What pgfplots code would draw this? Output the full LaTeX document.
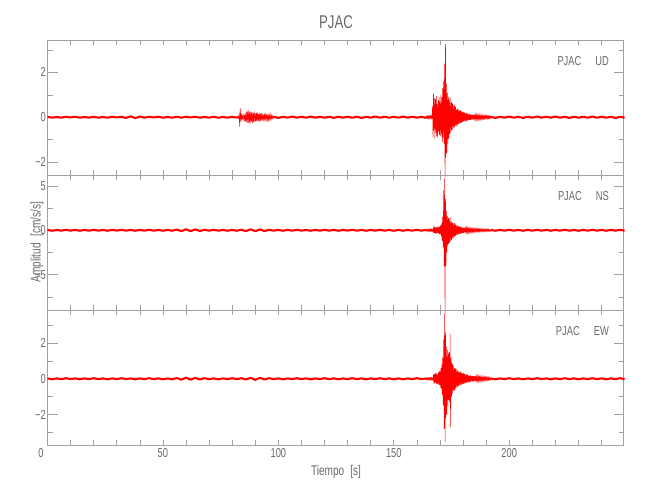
\documentclass[border=0pt]{standalone}
\usepackage{fontspec}
\setmainfont{Liberation Sans}[FakeStretch=0.72]
\usepackage{pgfplots}
\pgfplotsset{compat=1.18}
\definecolor{axgray}{RGB}{160,160,160}
\definecolor{txtgray}{RGB}{105,105,105}
\pgfplotsset{
  seis/.style={
    scale only axis, width=576bp, height=135bp,
    xmin=0, xmax=249.5, clip=false,
    axis line style={axgray, line width=0.6bp},
    tick style={axgray, line width=0.6bp},
    major tick length=10bp, minor tick length=5bp,
    xtick={0,50,100,150,200},
    major x tick style={draw=none},
    minor xtick={0,10,...,240},
    ticklabel style={font=\fontsize{13}{15}\selectfont, text=txtgray},
    yticklabel style={inner sep=1.5bp},
    xticklabel style={inner sep=3.5bp},
    /pgf/number format/assume math mode=true,
  },
  trace/.style={red, line width=0.5bp, mark=none},
  base/.style={red, line width=2.1bp, mark=none, line join=round},
}
\tikzset{comp/.style={anchor=east, xshift=-14.5bp, yshift=-21bp, font=\fontsize{13}{15}\selectfont, text=txtgray, inner sep=0pt}}
\begin{document}
\begin{tikzpicture}
\useasboundingbox (0,0) rectangle (650bp,500bp);
% ---------------- UD ----------------
\begin{axis}[seis, at={(47.5bp,325bp)}, anchor=south west,
  ymin=-2.58, ymax=3.45, ytick={-2,0,2}, yticklabels={−2,0,2},
  minor ytick={-2,-1,...,3}, xticklabels={}]
\addplot[base] table[header=false, row sep=\\, y index=0, x expr=\coordindex*2] {
0.02\\-0.02\\0.01\\-0.02\\0.02\\-0.01\\0.02\\-0.02\\0.01\\-0.02\\
0.02\\-0.02\\0.01\\-0.02\\0.02\\-0.01\\0.02\\-0.03\\0.04\\-0.04\\
0.03\\-0.02\\0.02\\-0.01\\0.02\\-0.02\\0.01\\-0.02\\0.02\\-0.02\\
0.02\\-0.01\\0.02\\-0.02\\0.01\\-0.02\\0.02\\-0.02\\0.01\\-0.02\\
0.02\\-0.02\\
};
\addplot[trace] table[header=false, row sep=\\, y index=0, x expr=82+\coordindex*0.25] {
0.03\\-0.04\\0.05\\-0.05\\0.1\\-0.42\\0.40\\-0.2\\0.12\\-0.08\\
0.07\\-0.09\\0.1\\-0.12\\0.15\\-0.2\\0.25\\-0.22\\0.28\\-0.25\\
0.3\\-0.27\\0.22\\-0.28\\0.26\\-0.2\\0.24\\-0.26\\0.2\\-0.22\\
0.25\\-0.2\\0.18\\-0.22\\0.2\\-0.17\\0.21\\-0.18\\0.15\\-0.19\\
0.2\\-0.16\\0.18\\-0.14\\0.17\\-0.15\\0.12\\-0.16\\0.14\\-0.12\\
0.13\\-0.1\\0.15\\-0.12\\0.1\\-0.13\\0.11\\-0.09\\0.12\\-0.1\\
0.08\\-0.07\\0.06\\-0.06\\0.05\\
};
\addplot[base] table[header=false, row sep=\\, y index=0, x expr=98+\coordindex*2] {
0.02\\-0.03\\0.02\\-0.02\\0.03\\-0.02\\0.02\\-0.02\\0.03\\-0.02\\
0.02\\-0.02\\0.02\\-0.03\\0.02\\-0.02\\0.02\\-0.02\\0.02\\-0.03\\
0.02\\-0.02\\0.03\\-0.02\\0.02\\-0.02\\0.02\\-0.02\\0.03\\-0.02\\
0.02\\-0.02\\0.02\\-0.03\\
};
\addplot[trace] table[header=false, row sep=\\, y index=0, x expr=164+\coordindex*0.2] {
0.05\\-0.04\\0.06\\-0.05\\0.04\\-0.06\\0.05\\-0.05\\0.06\\-0.04\\
0.06\\-0.05\\0.07\\-0.06\\0.5\\-0.9\\1.05\\-0.6\\0.85\\-0.95\\
0.8\\-0.7\\0.95\\-0.85\\0.6\\-0.9\\0.75\\-0.65\\0.9\\-0.8\\
0.7\\-0.85\\1.0\\-0.75\\0.9\\-1.1\\1.3\\-0.9\\1.6\\-1.2\\
2.4\\-2.65\\3.27\\-1.8\\1.5\\-1.6\\1.1\\-1.2\\0.9\\-0.95\\
0.8\\-0.75\\0.9\\-0.7\\0.65\\-0.6\\0.7\\-0.55\\0.6\\-0.5\\
0.5\\-0.45\\0.55\\-0.4\\0.45\\-0.4\\0.35\\-0.4\\0.38\\-0.32\\
0.35\\-0.3\\0.3\\-0.28\\0.32\\-0.25\\0.27\\-0.24\\0.25\\-0.22\\
0.24\\-0.2\\0.22\\-0.18\\0.2\\-0.19\\0.17\\-0.16\\0.18\\-0.15\\
0.16\\-0.14\\0.15\\-0.13\\0.14\\-0.12\\0.13\\-0.12\\0.12\\-0.11\\
0.12\\-0.1\\0.11\\-0.1\\0.12\\-0.09\\0.1\\-0.09\\0.1\\-0.08\\
0.09\\-0.1\\0.08\\-0.09\\0.08\\-0.07\\0.09\\-0.08\\0.07\\-0.08\\
0.07\\-0.06\\0.08\\-0.07\\0.06\\-0.07\\0.06\\-0.05\\0.07\\-0.06\\
0.06\\-0.05\\0.06\\-0.06\\0.05\\-0.06\\0.05\\-0.05\\0.06\\-0.05\\
0.05\\
};
\addplot[base] table[header=false, row sep=\\, y index=0, x expr=192+\coordindex*2] {
0.02\\-0.03\\0.02\\-0.02\\0.03\\-0.02\\0.02\\-0.03\\0.02\\-0.02\\
0.03\\-0.02\\0.02\\-0.02\\0.03\\-0.02\\0.02\\-0.03\\0.02\\-0.02\\
0.02\\-0.02\\0.03\\-0.02\\0.02\\-0.02\\0.02\\-0.03\\0.02\\-0.02\\
};
\node[comp] at (rel axis cs:1,1) {PJAC\hspace{14bp}UD};
\end{axis}
% ---------------- NS ----------------
\begin{axis}[seis, at={(47.5bp,190bp)}, anchor=south west,
  ymin=-8.98, ymax=6.23, ytick={-5,0,5}, yticklabels={−5,0,5},
  minor ytick={-7.5,-5,-2.5,0,2.5,5}, xticklabels={}]
\addplot[base] table[header=false, row sep=\\, y index=0, x expr=\coordindex*2] {
0.04\\-0.05\\0.03\\-0.04\\0.05\\-0.04\\0.04\\-0.05\\0.04\\-0.04\\
0.05\\-0.04\\0.04\\-0.05\\0.04\\-0.03\\0.05\\-0.04\\0.04\\-0.05\\
0.04\\-0.04\\0.05\\-0.04\\0.03\\-0.05\\0.04\\-0.05\\0.08\\-0.1\\
0.12\\-0.1\\0.1\\-0.08\\0.05\\-0.04\\0.05\\-0.04\\0.04\\-0.05\\
0.04\\-0.05\\0.06\\-0.09\\0.11\\-0.1\\0.09\\-0.08\\0.05\\-0.04\\
0.04\\-0.05\\0.04\\-0.04\\0.05\\-0.04\\0.03\\-0.05\\0.04\\-0.04\\
0.05\\-0.04\\0.04\\-0.05\\0.04\\-0.03\\0.05\\-0.04\\0.04\\-0.05\\
0.04\\-0.04\\0.05\\-0.04\\0.03\\-0.05\\0.04\\-0.05\\0.04\\-0.04\\
0.05\\-0.04\\0.04\\
};
\addplot[trace] table[header=false, row sep=\\, y index=0, x expr=164+\coordindex*0.2] {
0.1\\-0.09\\0.11\\-0.1\\0.09\\-0.11\\0.1\\-0.09\\0.12\\-0.1\\
0.11\\-0.1\\0.12\\-0.11\\0.1\\-0.12\\0.3\\-0.35\\0.4\\-0.3\\
0.35\\-0.4\\0.3\\-0.35\\0.4\\-0.3\\0.45\\-0.38\\0.35\\-0.42\\
0.5\\-0.45\\0.6\\-0.7\\0.9\\-1.2\\1.5\\-2.0\\4.5\\-4.1\\
5.86\\-9.3\\3.5\\-4.0\\2.2\\-2.5\\1.6\\-1.8\\1.4\\-1.5\\
1.3\\-1.4\\1.5\\-1.2\\1.0\\-1.1\\0.9\\-0.95\\0.8\\-0.85\\
0.75\\-0.7\\0.8\\-0.65\\0.6\\-0.62\\0.55\\-0.5\\0.52\\-0.48\\
0.5\\-0.45\\0.42\\-0.4\\0.45\\-0.38\\0.36\\-0.35\\0.33\\-0.32\\
0.3\\-0.32\\0.28\\-0.27\\0.3\\-0.25\\0.26\\-0.24\\0.25\\-0.22\\
0.24\\-0.22\\0.21\\-0.2\\0.22\\-0.19\\0.2\\-0.18\\0.19\\-0.17\\
0.18\\-0.17\\0.16\\-0.17\\0.15\\-0.16\\0.15\\-0.14\\0.16\\-0.14\\
0.14\\-0.13\\0.15\\-0.13\\0.12\\-0.14\\0.13\\-0.12\\0.13\\-0.11\\
0.12\\-0.11\\0.12\\-0.1\\0.11\\-0.12\\0.1\\-0.11\\0.12\\-0.1\\
0.11\\-0.1\\0.1\\-0.11\\0.09\\-0.1\\0.11\\-0.1\\0.09\\-0.1\\
0.05\\
};
\addplot[base] table[header=false, row sep=\\, y index=0, x expr=192+\coordindex*2] {
0.04\\-0.05\\0.04\\-0.04\\0.05\\-0.04\\0.04\\-0.05\\0.04\\-0.04\\
0.05\\-0.04\\0.04\\-0.05\\0.04\\-0.04\\0.05\\-0.04\\0.03\\-0.05\\
0.04\\-0.04\\0.05\\-0.04\\0.04\\-0.05\\0.04\\-0.04\\0.05\\-0.04\\
};
\node[comp] at (rel axis cs:1,1) {PJAC\hspace{14bp}NS};
\end{axis}
% ---------------- EW ----------------
\begin{axis}[seis, at={(47.5bp,55bp)}, anchor=south west,
  ymin=-3.70, ymax=3.84, ytick={-2,0,2}, yticklabels={−2,0,2},
  minor ytick={-3,-2,...,3},
  xticklabels={\makebox[0pt][r]{0\hspace{4bp}},50,100,150,200}]
\addplot[base] table[header=false, row sep=\\, y index=0, x expr=\coordindex*2] {
0.02\\-0.03\\0.02\\-0.02\\0.03\\-0.02\\0.02\\-0.03\\0.02\\-0.02\\
0.03\\-0.02\\0.02\\-0.03\\0.02\\-0.02\\0.03\\-0.02\\0.02\\-0.03\\
0.02\\-0.02\\0.03\\-0.02\\0.02\\-0.03\\0.02\\-0.03\\0.04\\-0.05\\
0.06\\-0.05\\0.05\\-0.04\\0.03\\-0.02\\0.02\\-0.03\\0.02\\-0.02\\
0.03\\-0.02\\0.03\\-0.04\\0.05\\-0.06\\0.05\\-0.04\\0.03\\-0.02\\
0.02\\-0.03\\0.02\\-0.02\\0.03\\-0.02\\0.02\\-0.03\\0.02\\-0.02\\
0.03\\-0.02\\0.02\\-0.03\\0.02\\-0.02\\0.03\\-0.02\\0.02\\-0.03\\
0.02\\-0.02\\0.03\\-0.02\\0.02\\-0.03\\0.02\\-0.03\\0.02\\-0.02\\
0.03\\-0.02\\0.02\\
};
\addplot[trace] table[header=false, row sep=\\, y index=0, x expr=164+\coordindex*0.2] {
0.05\\-0.06\\0.04\\-0.05\\0.06\\-0.05\\0.04\\-0.06\\0.05\\-0.05\\
0.06\\-0.05\\0.05\\-0.06\\0.05\\-0.06\\0.25\\-0.3\\0.28\\-0.22\\
0.3\\-0.25\\0.32\\-0.28\\0.25\\-0.3\\0.35\\-0.32\\0.4\\-0.35\\
0.45\\-0.5\\0.6\\-0.55\\0.8\\-0.9\\1.2\\-1.5\\2.2\\-2.8\\
3.65\\-3.52\\2.6\\-2.2\\1.8\\-2.0\\1.6\\-1.5\\1.4\\-1.2\\
1.5\\-1.3\\2.5\\-2.7\\1.2\\-1.0\\0.9\\-0.85\\0.8\\-0.7\\
0.7\\-0.65\\0.6\\-0.62\\0.55\\-0.5\\0.52\\-0.48\\0.45\\-0.42\\
0.42\\-0.4\\0.38\\-0.36\\0.4\\-0.34\\0.35\\-0.32\\0.33\\-0.3\\
0.32\\-0.28\\0.3\\-0.27\\0.26\\-0.25\\0.24\\-0.22\\0.23\\-0.21\\
0.22\\-0.2\\0.19\\-0.2\\0.18\\-0.17\\0.19\\-0.16\\0.17\\-0.15\\
0.16\\-0.15\\0.15\\-0.14\\0.16\\-0.13\\0.14\\-0.13\\0.12\\-0.13\\
0.13\\-0.12\\0.11\\-0.12\\0.12\\-0.1\\0.11\\-0.1\\0.1\\-0.11\\
0.1\\-0.09\\0.1\\-0.08\\0.09\\-0.09\\0.08\\-0.08\\0.09\\-0.07\\
0.08\\-0.07\\0.07\\-0.08\\0.06\\-0.07\\0.07\\-0.06\\0.06\\-0.07\\
0.03\\
};
\addplot[base] table[header=false, row sep=\\, y index=0, x expr=192+\coordindex*2] {
0.02\\-0.03\\0.02\\-0.02\\0.03\\-0.02\\0.02\\-0.03\\0.02\\-0.02\\
0.03\\-0.02\\0.02\\-0.03\\0.02\\-0.02\\0.03\\-0.02\\0.02\\-0.03\\
0.02\\-0.02\\0.03\\-0.02\\0.02\\-0.03\\0.02\\-0.02\\0.03\\-0.02\\
};
\node[comp] at (rel axis cs:1,1) {PJAC\hspace{14bp}EW};
\end{axis}
% ---------------- titles ----------------
\node[font=\fontsize{18.5}{20}\selectfont, text=txtgray] at (336bp,478bp) {PJAC};
\node[font=\fontsize{14}{16}\selectfont, text=txtgray] at (336bp,28bp) {Tiempo\hspace{6bp}[s]};
\node[rotate=90, font=\fontsize{14}{16}\selectfont, text=txtgray] at (37bp,258bp) {Amplitud\hspace{7bp}[cm/s/s]};
\end{tikzpicture}
\end{document}
